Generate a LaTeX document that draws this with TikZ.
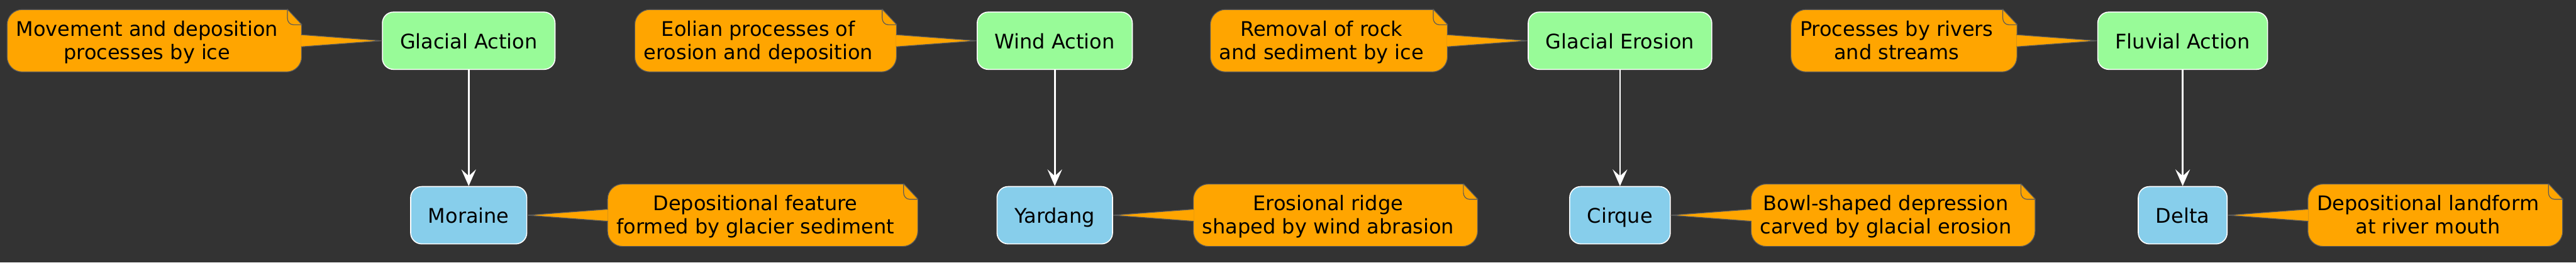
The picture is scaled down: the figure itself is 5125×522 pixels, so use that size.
\documentclass[tikz,border=0pt]{standalone}
\usepackage{fontspec}
\setmainfont{DejaVu Sans}
\usetikzlibrary{arrows.meta,positioning,calc}
\definecolor{board}{HTML}{333333}
\definecolor{actgreen}{HTML}{98FB98}
\definecolor{formblue}{HTML}{87CEEB}
\definecolor{memo}{HTML}{FFA500}
\definecolor{memoline}{HTML}{5A5A5A}
\newcommand{\memotext}[2]{\begin{tabular}[t]{@{}c@{}}#1\\#2\end{tabular}\hspace*{5.8pt}}
\tikzset{
  process/.style={draw=white,fill=actgreen,line width=0.4pt,rounded corners=4.4pt,
                  minimum height=22.8pt,inner xsep=7pt,text height=6.3pt,text depth=0pt,
                  font=\fontsize{8}{9.2}\selectfont},
  landform/.style={process,fill=formblue},
  memobox/.style={draw=memoline,fill=memo,line width=0.3pt,rounded corners=6pt,
                  minimum height=24.8pt,inner xsep=3.6pt,text height=4pt,text depth=7.7pt,
                  font=\fontsize{8}{9.2}\selectfont},
  memotip/.style={fill=memo,draw=memoline,line width=0.3pt},
  flow/.style={-{Stealth[length=6.6pt,width=5.8pt,inset=2.6pt]},line width=0.7pt,draw=white}
}

\begin{document}
\begin{tikzpicture}[x=0.2pt,y=0.2pt]
  \fill[board] (0,0) rectangle (5125,-522);
  % processes
  \node[process] (glacial) at (932.5,-81) {Glacial Action};
  \node[process] (wind) at (2098.5,-81) {Wind Action};
  \node[process] (erosion) at (3223,-81) {Glacial Erosion};
  \node[process] (fluvial) at (4342.5,-81) {Fluvial Action};
  % landforms
  \node[landform,below=46.2pt of glacial] (moraine) {Moraine};
  \node[landform,below=46.2pt of wind] (yardang) {Yardang};
  \node[landform,below=46.2pt of erosion] (cirque) {Cirque};
  \node[landform,below=46.2pt of fluvial] (delta) {Delta};
  % notes
  \node[memobox,left=31.8pt of glacial] (glacialnote)
    {\memotext{Movement and deposition}{processes by ice}};
  \node[memobox,left=31.8pt of wind] (windnote)
    {\memotext{Eolian processes of}{erosion and deposition}};
  \node[memobox,left=31.8pt of erosion] (erosionnote)
    {\memotext{Removal of rock}{and sediment by ice}};
  \node[memobox,left=31.8pt of fluvial] (fluvialnote)
    {\memotext{Processes by rivers}{and streams}};
  \node[memobox,right=31.8pt of moraine] (morainenote)
    {\memotext{Depositional feature}{formed by glacier sediment}};
  \node[memobox,right=31.8pt of yardang] (yardangnote)
    {\memotext{Erosional ridge}{shaped by wind abrasion}};
  \node[memobox,right=31.8pt of cirque] (cirquenote)
    {\memotext{Bowl-shaped depression}{carved by glacial erosion}};
  \node[memobox,right=31.8pt of delta] (deltanote)
    {\memotext{Depositional landform}{at river mouth}};
  % folded corners
  \foreach \n in {glacialnote,windnote,erosionnote,fluvialnote,
                  morainenote,yardangnote,cirquenote,deltanote}{
    \fill[board] ($(\n.north east)+(-29,2)$) -- ($(\n.north east)+(2,2)$)
      -- ($(\n.north east)+(2,-31)$) -- ($(\n.north east)+(0,-31)$)
      -- ($(\n.north east)+(-29,0)$) -- cycle;
    \draw[memoline,line width=0.3pt] ($(\n.north east)+(-29,0)$) -- ($(\n.north east)+(0,-31)$);
    \draw[memoline,line width=0.3pt] ($(\n.north east)+(-29,0)$) -- ++(0,-18)
      to[out=-90,in=180] ($(\n.north east)+(-17,-31)$) -- ($(\n.north east)+(0,-31)$);
  }
  % note pointers
  \foreach \n/\t in {glacialnote/glacial,windnote/wind,erosionnote/erosion,fluvialnote/fluvial}
    \filldraw[memotip] ($(\n.east)+(-1.5,12)$) -- (\t.west) -- ($(\n.east)+(-1.5,-12)$);
  \foreach \n/\t in {morainenote/moraine,yardangnote/yardang,cirquenote/cirque,deltanote/delta}
    \filldraw[memotip] ($(\n.west)+(1.5,12)$) -- (\t.east) -- ($(\n.west)+(1.5,-12)$);
  % arrows
  \foreach \a/\b in {glacial/moraine,wind/yardang,erosion/cirque,fluvial/delta}
    \draw[flow] (\a) -- (\b);
\end{tikzpicture}
\end{document}
